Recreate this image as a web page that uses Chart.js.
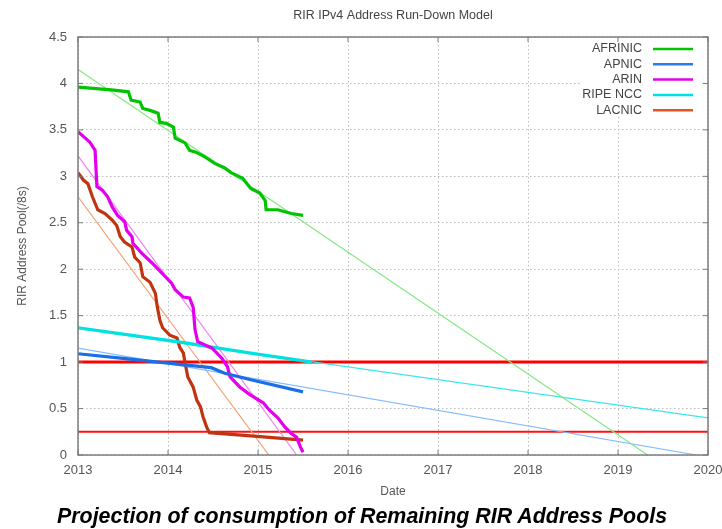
<!DOCTYPE html>
<html>
<head>
<meta charset="utf-8">
<script src="https://cdn.jsdelivr.net/npm/chart.js@4.4.0/dist/chart.umd.min.js"></script>
<style>
body { margin: 0; background: #fff; }
#wrap { position: relative; width: 722px; height: 529px; }
#caption {
  position: absolute; left: 57px; top: 504px;
  font: italic bold 21.4px "Liberation Sans", Arial, sans-serif;
  line-height: 24px;
  color: #000; white-space: nowrap;
}
</style>
</head>
<body>
<div id="wrap">
  <canvas id="rundown" width="722" height="529"></canvas>
  <div id="caption">Projection of consumption of Remaining RIR Address Pools</div>
</div>
<script>
const afrinicYears = [2013.00, 2013.37, 2013.56, 2013.59, 2013.69, 2013.72, 2013.80, 2013.89, 2013.91, 2013.98, 2014.06, 2014.08, 2014.19, 2014.24, 2014.31, 2014.41, 2014.52, 2014.63, 2014.70, 2014.83, 2014.92, 2015.02, 2015.08, 2015.09, 2015.22, 2015.37, 2015.50];
const afrinicPool  = [3.96, 3.93, 3.91, 3.82, 3.80, 3.73, 3.71, 3.68, 3.58, 3.57, 3.53, 3.41, 3.36, 3.28, 3.26, 3.21, 3.14, 3.09, 3.04, 2.98, 2.87, 2.82, 2.74, 2.64, 2.64, 2.60, 2.58];

const apnicYears = [2013.00, 2013.50, 2014.00, 2014.48, 2014.63, 2014.92, 2015.50];
const apnicPool  = [1.09, 1.04, 0.99, 0.94, 0.88, 0.81, 0.68];

const arinYears = [2013.00, 2013.13, 2013.19, 2013.21, 2013.27, 2013.33, 2013.38, 2013.44, 2013.52, 2013.54, 2013.60, 2013.61, 2013.71, 2013.82, 2013.93, 2014.04, 2014.08, 2014.17, 2014.24, 2014.28, 2014.30, 2014.33, 2014.49, 2014.60, 2014.66, 2014.69, 2014.80, 2014.91, 2015.06, 2015.13, 2015.22, 2015.30, 2015.36, 2015.43, 2015.47, 2015.50];
const arinPool  = [3.48, 3.37, 3.28, 2.89, 2.85, 2.78, 2.67, 2.58, 2.51, 2.42, 2.35, 2.28, 2.17, 2.07, 1.96, 1.85, 1.78, 1.70, 1.69, 1.59, 1.35, 1.22, 1.15, 1.04, 0.95, 0.84, 0.73, 0.65, 0.56, 0.48, 0.40, 0.30, 0.24, 0.19, 0.09, 0.03];

const ripeYears = [2013.00, 2014.10, 2014.90, 2015.60];
const ripePool  = [1.37, 1.22, 1.10, 1.00];

const lacnicYears = [2013.00, 2013.06, 2013.11, 2013.16, 2013.22, 2013.30, 2013.38, 2013.43, 2013.47, 2013.52, 2013.60, 2013.63, 2013.69, 2013.72, 2013.80, 2013.86, 2013.88, 2013.91, 2013.94, 2014.02, 2014.10, 2014.13, 2014.17, 2014.19, 2014.22, 2014.28, 2014.32, 2014.36, 2014.39, 2014.43, 2014.46, 2014.99, 2015.50];
const lacnicPool  = [3.04, 2.96, 2.92, 2.78, 2.64, 2.60, 2.53, 2.47, 2.35, 2.29, 2.24, 2.13, 2.07, 1.92, 1.86, 1.74, 1.60, 1.45, 1.37, 1.29, 1.26, 1.16, 1.10, 0.99, 0.84, 0.73, 0.59, 0.52, 0.41, 0.30, 0.24, 0.20, 0.16];

// fitted run-down lines
const afrinicTrendYears = [2013, 2019.33];
const afrinicTrend      = [4.15, 0];
const apnicTrendYears   = [2013, 2019.87];
const apnicTrend        = [1.15, 0];
const arinTrendYears    = [2013, 2015.43];
const arinTrend         = [3.22, 0];
const ripeTrendYears    = [2013, 2020];
const ripeTrend         = [1.36, 0.40];
const lacnicTrendYears  = [2013, 2015.12];
const lacnicTrend       = [2.78, 0];

// the two red threshold lines
const limitYears = [2013, 2020];
const limitOne   = [1, 1];
const limitLast  = [0.25, 0.25];

const rirNames = ['AFRINIC', 'APNIC', 'ARIN', 'RIPE NCC', 'LACNIC'];
const yearTicks = [2013, 2014, 2015, 2016, 2017, 2018, 2019, 2020];

const thick = ['#00c400', '#1c6ee6', '#e400ec', '#00e2e2', '#c03410'];
const thin  = ['#84e884', '#84bcff', '#f482f4', '#3ae6ee', '#f2a274'];
const legendLine = ['#00c400', '#2a7cf0', '#e400ec', '#00e2e2', '#e0561e'];

function pts(xs, ys) {
  return xs.map((x, i) => ({x: x, y: ys[i]}));
}

function line(data, color, width, order) {
  return {
    data: data,
    borderColor: color,
    borderWidth: width,
    pointRadius: 0,
    tension: 0,
    fill: false,
    order: order,
  };
}

const datasets = [
  line(pts(limitYears, limitOne), '#ff0000', 3, 20),
  line(pts(limitYears, limitLast), '#ff1010', 2, 20),
  line(pts(afrinicTrendYears, afrinicTrend), thin[0], 1.2, 10),
  line(pts(apnicTrendYears, apnicTrend), thin[1], 1.2, 10),
  line(pts(arinTrendYears, arinTrend), thin[2], 1.2, 10),
  line(pts(ripeTrendYears, ripeTrend), thin[3], 1.2, 10),
  line(pts(lacnicTrendYears, lacnicTrend), thin[4], 1.2, 10),
  line(pts(afrinicYears, afrinicPool), thick[0], 3.2, 1),
  line(pts(apnicYears, apnicPool), thick[1], 3.2, 1),
  line(pts(arinYears, arinPool), thick[2], 3.2, 1),
  line(pts(ripeYears, ripePool), thick[3], 3.2, 1),
  line(pts(lacnicYears, lacnicPool), thick[4], 3.2, 1),
];

// gnuplot style frame, inward tick marks and key with text left of the sample
const gnuplotFrame = {
  id: 'gnuplotFrame',
  beforeDatasetsDraw(chart) {
    const c = chart.ctx;
    const a = chart.chartArea;
    c.save();
    c.fillStyle = '#fff';
    c.fillRect(a.right - 126, a.top + 4, 120, 75);
    c.restore();
  },
  afterDraw(chart) {
    const c = chart.ctx;
    const a = chart.chartArea;
    const xs = chart.scales.x;
    const ys = chart.scales.y;
    c.save();
    c.strokeStyle = '#7c7c7c';
    c.lineWidth = 1.5;
    c.strokeRect(a.left, a.top, a.right - a.left, a.bottom - a.top);
    c.lineWidth = 1;
    c.beginPath();
    yearTicks.forEach(t => {
      const px = xs.getPixelForValue(t);
      c.moveTo(px, a.bottom); c.lineTo(px, a.bottom - 5);
      c.moveTo(px, a.top); c.lineTo(px, a.top + 5);
    });
    ys.ticks.forEach(t => {
      const py = ys.getPixelForValue(t.value);
      c.moveTo(a.left, py); c.lineTo(a.left + 5, py);
      c.moveTo(a.right, py); c.lineTo(a.right - 5, py);
    });
    c.stroke();

    c.font = '12.5px "Liberation Sans", Arial, sans-serif';
    c.textAlign = 'right';
    c.textBaseline = 'middle';
    rirNames.forEach((name, i) => {
      const y = a.top + 12 + i * 15.3;
      c.fillStyle = '#444';
      c.fillText(name, a.right - 66, y);
      c.strokeStyle = legendLine[i];
      c.lineWidth = 2.5;
      c.beginPath();
      c.moveTo(a.right - 55, y);
      c.lineTo(a.right - 15, y);
      c.stroke();
    });

    c.font = '12.5px "Liberation Sans", Arial, sans-serif';
    c.fillStyle = '#444';
    c.textAlign = 'center';
    c.fillText('RIR IPv4 Address Run-Down Model', (a.left + a.right) / 2, 16);
    c.restore();
  }
};

const tickFont = {family: '"Liberation Sans", Arial, sans-serif', size: 13};
const titleFont = {family: '"Liberation Sans", Arial, sans-serif', size: 12};

new Chart(document.getElementById('rundown').getContext('2d'), {
  type: 'line',
  data: {datasets: datasets},
  options: {
    responsive: false,
    animation: false,
    layout: {padding: {top: 37, right: 14, left: 0, bottom: 0}},
    plugins: {
      legend: {display: false},
      tooltip: {enabled: false},
      title: {display: false},
    },
    scales: {
      x: {
        type: 'linear',
        min: 2013,
        max: 2020,
        afterFit: s => { s.height = 74; s.paddingLeft = 0; s.paddingRight = 0; },
        afterBuildTicks: s => { s.ticks = yearTicks.map(v => ({value: v})); },
        ticks: {
          color: '#555', font: tickFont, padding: 8, maxRotation: 0,
          callback: v => String(v),
        },
        grid: {color: '#bdbdbd', lineWidth: 1, drawTicks: false},
        border: {display: false, dash: [1.5, 2.5]},
        title: {display: true, text: 'Date', color: '#555', font: titleFont, padding: {top: 0, bottom: 30}},
      },
      y: {
        min: 0,
        max: 4.5,
        afterFit: s => { s.width = 78; s.paddingTop = 0; s.paddingBottom = 0; },
        ticks: {stepSize: 0.5, color: '#555', font: tickFont, padding: 11, callback: v => String(v)},
        grid: {color: '#bdbdbd', lineWidth: 1, drawTicks: false},
        border: {display: false, dash: [1.5, 2.5]},
        title: {display: true, text: 'RIR Address Pool(/8s)', color: '#555', font: titleFont, padding: {top: 15, bottom: 0}},
      },
    },
  },
  plugins: [gnuplotFrame],
});
</script>
</body>
</html>
